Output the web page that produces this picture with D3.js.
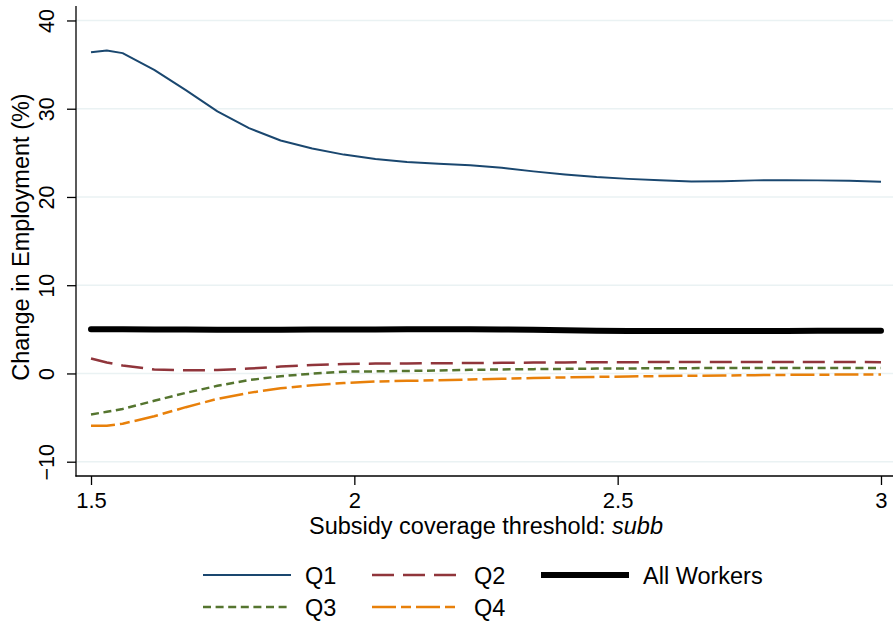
<!DOCTYPE html>
<html>
<head>
<meta charset="utf-8">
<script src="https://cdn.jsdelivr.net/npm/d3@7"></script>
<style>
  html, body { margin: 0; padding: 0; background: #fff; }
  svg { display: block; font-family: "Liberation Sans", Arial, Helvetica, sans-serif; }
</style>
</head>
<body>
<svg id="chart" width="893" height="624"></svg>
<script>
// Subsidy coverage threshold (x) grid
const threshold = [1.50, 1.53, 1.56, 1.62, 1.68, 1.74, 1.80, 1.86, 1.92, 1.98, 2.04, 2.10, 2.16, 2.22,
                   2.28, 2.34, 2.40, 2.46, 2.52, 2.58, 2.64, 2.70, 2.76, 2.82, 2.88, 2.94, 3.00];

// Change in employment (%) by wage quartile
const q1 = [36.4, 36.6, 36.3, 34.4, 32.1, 29.7, 27.8, 26.4, 25.5, 24.8, 24.3, 23.95, 23.75, 23.6,
            23.3, 22.9, 22.55, 22.25, 22.05, 21.9, 21.75, 21.78, 21.88, 21.9, 21.88, 21.83, 21.72];
const q2 = [1.7, 1.25, 0.9, 0.45, 0.36, 0.38, 0.55, 0.78, 0.95, 1.08, 1.12, 1.14, 1.16, 1.18,
            1.2, 1.23, 1.25, 1.27, 1.28, 1.29, 1.3, 1.31, 1.31, 1.31, 1.3, 1.29, 1.28];
const q3 = [-4.64, -4.35, -4.02, -3.1, -2.2, -1.4, -0.75, -0.32, -0.02, 0.2, 0.24, 0.28, 0.34, 0.41,
            0.46, 0.49, 0.52, 0.55, 0.57, 0.59, 0.6, 0.62, 0.63, 0.63, 0.63, 0.63, 0.63];
const q4 = [-5.93, -5.93, -5.7, -4.85, -3.82, -2.88, -2.2, -1.68, -1.34, -1.08, -0.91, -0.84, -0.77, -0.68,
            -0.6, -0.52, -0.45, -0.39, -0.34, -0.3, -0.26, -0.23, -0.19, -0.16, -0.14, -0.12, -0.11];
const allWorkers = [5.02, 5.0, 5.0, 4.98, 4.97, 4.96, 4.95, 4.96, 4.97, 4.98, 4.99, 5.0, 5.0, 5.0,
                    4.98, 4.94, 4.9, 4.85, 4.82, 4.8, 4.8, 4.8, 4.81, 4.82, 4.83, 4.84, 4.85];

const xTicks = [1.5, 2, 2.5, 3];
const xTickLabels = ["1.5", "2", "2.5", "3"];
const yTicks = [-10, 0, 10, 20, 30, 40];
const yTickLabels = ["\u221210", "0", "10", "20", "30", "40"];

const svg = d3.select("#chart");
const W = 893, H = 624;
svg.append("rect").attr("width", W).attr("height", H).attr("fill", "#fff");

const plot = { left: 76, right: 893, top: 6, bottom: 476 };

const x = d3.scaleLinear().domain([1.4715, 3.0228]).range([plot.left, plot.right]);
const y = d3.scaleLinear().domain([-11.62, 41.64]).range([plot.bottom, plot.top]);

const FONT = "Liberation Sans, Arial, sans-serif";

// gridlines
svg.append("g").selectAll("line").data(yTicks).join("line")
  .attr("x1", plot.left).attr("x2", plot.right)
  .attr("y1", d => y(d)).attr("y2", d => y(d))
  .attr("stroke", "#eaf2f3").attr("stroke-width", 1.5);

// axes
const yAxis = d3.axisLeft(y).tickValues(yTicks).tickSize(9).tickFormat((d, i) => yTickLabels[i]);
const gy = svg.append("g").attr("transform", `translate(${plot.left},0)`).call(yAxis);
gy.select(".domain").remove();
gy.selectAll(".tick line").attr("stroke", "#000").attr("stroke-width", 1.3);
gy.selectAll(".tick text")
  .attr("x", null).attr("dy", null)
  .attr("transform", "translate(-22,0) rotate(-90)")
  .attr("text-anchor", "middle")
  .attr("font-size", 21.5).attr("fill", "#000")
  .attr("font-family", FONT);

const xAxis = d3.axisBottom(x).tickValues(xTicks).tickSize(9).tickFormat((d, i) => xTickLabels[i]);
const gx = svg.append("g").attr("transform", `translate(0,${plot.bottom})`).call(xAxis);
gx.select(".domain").remove();
gx.selectAll(".tick line").attr("stroke", "#000").attr("stroke-width", 1.3);
gx.selectAll(".tick text")
  .attr("y", 31.5).attr("dy", null)
  .attr("font-size", 22).attr("fill", "#000")
  .attr("font-family", FONT);

// axis lines
svg.append("line").attr("x1", plot.left).attr("x2", plot.left)
  .attr("y1", plot.top).attr("y2", plot.bottom + 0.6)
  .attr("stroke", "#000").attr("stroke-width", 1.3);
svg.append("line").attr("x1", plot.left - 0.6).attr("x2", plot.right)
  .attr("y1", plot.bottom).attr("y2", plot.bottom)
  .attr("stroke", "#000").attr("stroke-width", 1.3);

// axis titles
svg.append("text")
  .attr("transform", `translate(29,237) rotate(-90)`)
  .attr("text-anchor", "middle").attr("font-size", 23.5).attr("fill", "#000")
  .text("Change in Employment (%)");

const xt = svg.append("text")
  .attr("x", 486).attr("y", 534)
  .attr("text-anchor", "middle").attr("font-size", 23.5).attr("fill", "#000");
xt.append("tspan").text("Subsidy coverage threshold: ");
xt.append("tspan").attr("font-style", "italic").text("subb");

// series styles
const styles = {
  "Q1": { data: q1, color: "#1a476f", width: 2, dash: null, cap: "butt" },
  "Q2": { data: q2, color: "#90353b", width: 2.5, dash: "22,9", cap: "butt" },
  "Q3": { data: q3, color: "#55752f", width: 2.5, dash: "8,4.6", cap: "butt" },
  "Q4": { data: q4, color: "#e8800a", width: 2.5, dash: "24,5,10,5", cap: "butt" },
  "All Workers": { data: allWorkers, color: "#000", width: 6, dash: null, cap: "round" }
};

const line = d3.line().x((d, i) => x(threshold[i])).y(d => y(d));

["Q1", "Q2", "Q3", "Q4", "All Workers"].forEach(name => {
  const s = styles[name];
  svg.append("path")
    .datum(s.data)
    .attr("fill", "none")
    .attr("stroke", s.color)
    .attr("stroke-width", s.width)
    .attr("stroke-linecap", s.cap)
    .attr("stroke-linejoin", "round")
    .attr("stroke-dasharray", s.dash)
    .attr("d", line);
});

// legend
const legendItems = [
  { name: "Q1", lx: 203, row: 0 },
  { name: "Q2", lx: 372, row: 0 },
  { name: "All Workers", lx: 541, row: 0 },
  { name: "Q3", lx: 203, row: 1 },
  { name: "Q4", lx: 372, row: 1 }
];
const rowY = [575, 607];
const leg = svg.append("g");
legendItems.forEach(it => {
  const s = styles[it.name];
  const yy = rowY[it.row];
  leg.append("line")
    .attr("x1", it.lx).attr("x2", it.lx + 88)
    .attr("y1", yy).attr("y2", yy)
    .attr("stroke", s.color)
    .attr("stroke-width", s.width)
    .attr("stroke-dasharray", s.dash);
  leg.append("text")
    .attr("x", it.lx + 102).attr("y", yy + 9)
    .attr("font-size", 23.5).attr("fill", "#000")
    .text(it.name);
});
</script>
</body>
</html>
